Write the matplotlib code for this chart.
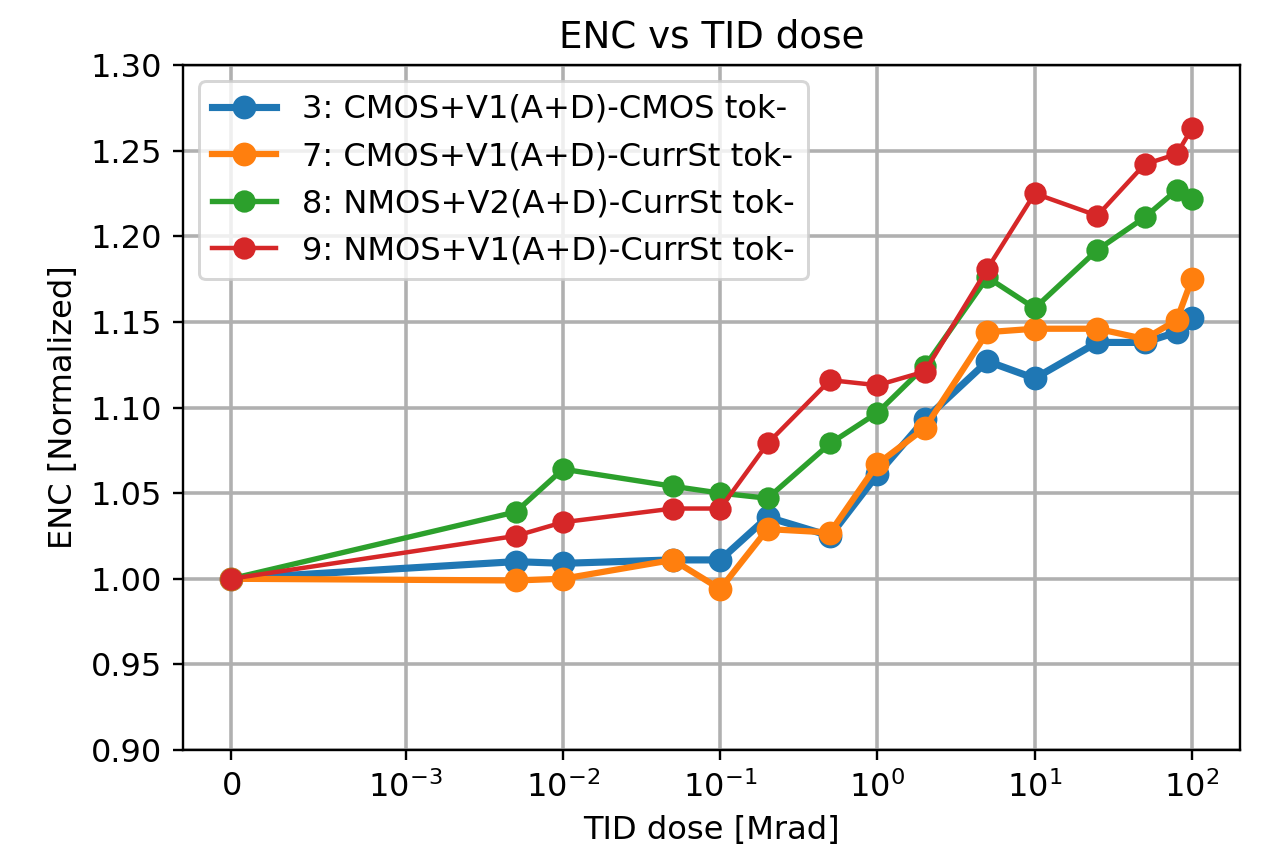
import numpy as np
import matplotlib
matplotlib.use("Agg")
import matplotlib.pyplot as plt
from matplotlib.ticker import NullLocator

# TID dose points [Mrad]
dose = [0, 0.005, 0.01, 0.05, 0.1, 0.2, 0.5, 1, 2, 5, 10, 25, 50, 80, 100]

# normalized ENC per chip
enc_3 = [1.000, 1.010, 1.009, 1.011, 1.011, 1.036, 1.025, 1.061, 1.093, 1.127, 1.117, 1.138, 1.138, 1.144, 1.152]
enc_7 = [1.000, 0.999, 1.000, 1.011, 0.994, 1.029, 1.027, 1.067, 1.088, 1.144, 1.146, 1.146, 1.140, 1.151, 1.175]
enc_8 = [1.000, 1.039, 1.064, 1.054, 1.050, 1.047, 1.079, 1.097, 1.124, 1.176, 1.158, 1.192, 1.211, 1.227, 1.222]
enc_9 = [1.000, 1.025, 1.033, 1.041, 1.041, 1.079, 1.116, 1.113, 1.121, 1.181, 1.225, 1.212, 1.242, 1.248, 1.263]

labels = ["3: CMOS+V1(A+D)-CMOS tok-",
          "7: CMOS+V1(A+D)-CurrSt tok-",
          "8: NMOS+V2(A+D)-CurrSt tok-",
          "9: NMOS+V1(A+D)-CurrSt tok-"]

DPI = 214.3
fig = plt.figure(figsize=(1286 / DPI, 853 / DPI), dpi=DPI)
ax = fig.add_axes([183 / 1286, 1 - 750 / 853, (1240 - 183) / 1286, (750 - 65) / 853])

ax.plot(dose, enc_3, "o-", color="tab:blue", lw=2.4, ms=7, label=labels[0])
ax.plot(dose, enc_7, "o-", color="tab:orange", lw=2.1, ms=7, label=labels[1])
ax.plot(dose, enc_8, "o-", color="tab:green", lw=1.8, ms=6.5, label=labels[2])
ax.plot(dose, enc_9, "o-", color="tab:red", lw=1.5, ms=6.5, label=labels[3])

ax.set_xscale("symlog", linthresh=1e-3)
ax.set_xticks([0, 1e-3, 1e-2, 1e-1, 1, 10, 100])
ax.xaxis.set_minor_locator(NullLocator())
ax.set_ylim(0.90, 1.30)
ax.set_yticks(np.arange(0.90, 1.301, 0.05))

ax.grid(True, lw=1.2, color="#b0b0b0")
ax.tick_params(labelsize=10.8)
ax.set_title("ENC vs TID dose", fontsize=12.5)
ax.set_xlabel("TID dose [Mrad]", fontsize=10.8)
ax.set_ylabel("ENC [Normalized]", fontsize=10.8)
ax.legend(loc="upper left", fontsize=10.8)

fig.savefig("out.png", dpi=DPI)
